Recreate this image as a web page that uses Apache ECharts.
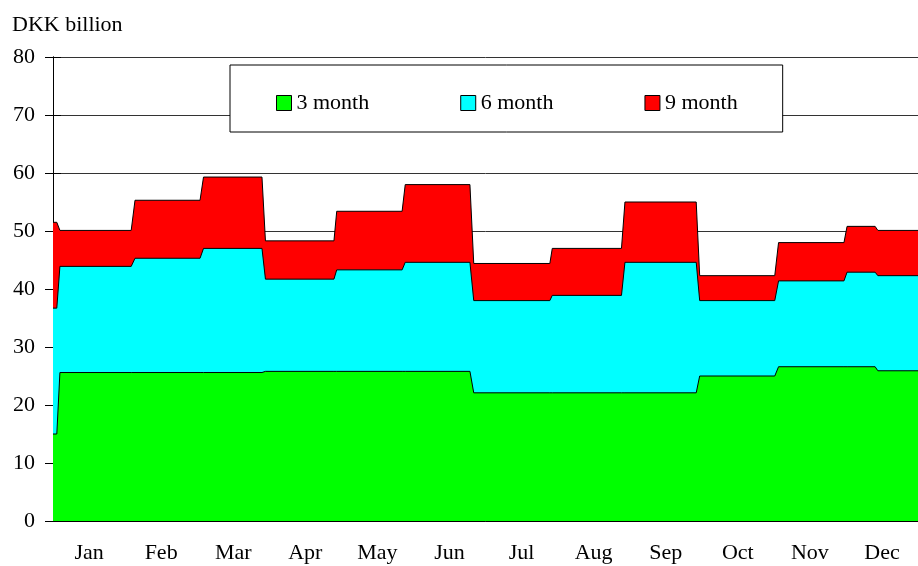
<!DOCTYPE html>
<html>
<head>
<meta charset="utf-8">
<script src="https://cdn.jsdelivr.net/npm/echarts@6/dist/echarts.min.js"></script>
<style>
  html, body { margin: 0; padding: 0; background: #fff; }
  #chart { width: 918px; height: 566px; }
</style>
</head>
<body>
<div id="chart"></div>
<script>
// month labels under the axis
var months = ['Jan', 'Feb', 'Mar', 'Apr', 'May', 'Jun', 'Jul', 'Aug', 'Sep', 'Oct', 'Nov', 'Dec'];

// each step: first and last business day of the level
var segStart = [0, 2, 23.7, 43.5, 61.4, 82.0, 101.8, 121.6, 144.3, 165.3, 186.9, 209.7, 229.5, 238.4];
var segEnd   = [1.1, 22.6, 42.5, 60.4, 81.2, 100.9, 120.5, 143.6, 164.3, 185.9, 208.6, 228.6, 237.6, 250];

// outstanding amount per maturity, DKK billion
var threeMonth = [15.0, 25.6, 25.6, 25.6, 25.8, 25.8, 25.8, 22.1, 22.1, 22.1, 25.0, 26.6, 26.6, 25.9];
var sixMonth   = [21.7, 18.3, 19.7, 21.4, 15.9, 17.5, 18.8, 15.9, 16.8, 22.5, 13.0, 14.8, 16.3, 16.4];
var nineMonth  = [14.8, 6.2, 10.0, 12.3, 6.6, 10.1, 13.4, 6.4, 8.1, 10.4, 4.3, 6.6, 7.9, 7.8];

// stacked tops (the value axis stacks by x otherwise), drawn back to front
function steps(layers) {
    var out = [];
    for (var i = 0; i < segStart.length; i++) {
        var top = 0;
        layers.forEach(function (l) { top += l[i]; });
        top = Math.round(top * 100) / 100;
        out.push([segStart[i], top]);
        out.push([segEnd[i], top]);
    }
    return out;
}

var font = 'Liberation Serif, Times New Roman, serif';

function areaSeries(name, color, layers) {
    return {
        name: name,
        type: 'line',
        xAxisIndex: 1,
        data: steps(layers),
        showSymbol: false,
        symbol: 'none',
        silent: true,
        animation: false,
        lineStyle: { color: '#000', width: 1 },
        itemStyle: { color: color },
        areaStyle: { color: color, opacity: 1 }
    };
}

var myChart = echarts.init(document.getElementById('chart'));
var option = {
    backgroundColor: '#fff',
    animation: false,
    title: {
        text: 'DKK billion',
        left: 12,
        top: 14,
        padding: 0,
        textStyle: { fontFamily: font, fontSize: 22, fontWeight: 'normal', color: '#000' }
    },
    legend: {
        left: 230,
        top: 65,
        padding: [27, 45, 18, 46],
        itemGap: 91,
        itemWidth: 15,
        itemHeight: 15,
        icon: 'rect',
        backgroundColor: '#fff',
        borderColor: '#000',
        borderWidth: 1,
        borderRadius: 0,
        textStyle: { fontFamily: font, fontSize: 22, color: '#000' },
        itemStyle: { borderColor: '#000', borderWidth: 1 },
        data: [
            { name: '3 month', itemStyle: { color: '#00ff00' } },
            { name: '6 month', itemStyle: { color: '#00ffff' } },
            { name: '9 month', itemStyle: { color: '#ff0000' } }
        ],
        selectedMode: false
    },
    grid: { left: 53, right: -15, top: 57, bottom: 45 },
    xAxis: [
        {
            type: 'category',
            data: months,
            boundaryGap: true,
            axisLine: { lineStyle: { color: '#000', width: 1 } },
            axisTick: { show: false },
            axisLabel: { fontFamily: font, fontSize: 22, color: '#000', margin: 21 },
            splitLine: { show: false }
        },
        {
            type: 'value',
            min: 0,
            max: 250,
            show: false
        }
    ],
    yAxis: [
        {
            type: 'value',
            min: 0,
            max: 80,
            interval: 10,
            axisLine: { show: true, lineStyle: { color: '#000', width: 1 } },
            axisTick: { show: true, length: 8, lineStyle: { color: '#000' } },
            axisLabel: { fontFamily: font, fontSize: 22, color: '#000', margin: 18 },
            splitLine: { show: true, lineStyle: { color: '#333', width: 1 } }
        },
        {
            type: 'value',
            min: 0,
            max: 80,
            interval: 10,
            position: 'left',
            axisLine: { show: true, lineStyle: { color: '#000', width: 1 } },
            axisTick: { show: true, inside: true, length: 8, lineStyle: { color: '#000' } },
            axisLabel: { show: false },
            splitLine: { show: false }
        }
    ],
    series: [
        areaSeries('9 month', '#ff0000', [threeMonth, sixMonth, nineMonth]),
        areaSeries('6 month', '#00ffff', [threeMonth, sixMonth]),
        areaSeries('3 month', '#00ff00', [threeMonth])
    ]
};
myChart.setOption(option);
</script>
</body>
</html>
